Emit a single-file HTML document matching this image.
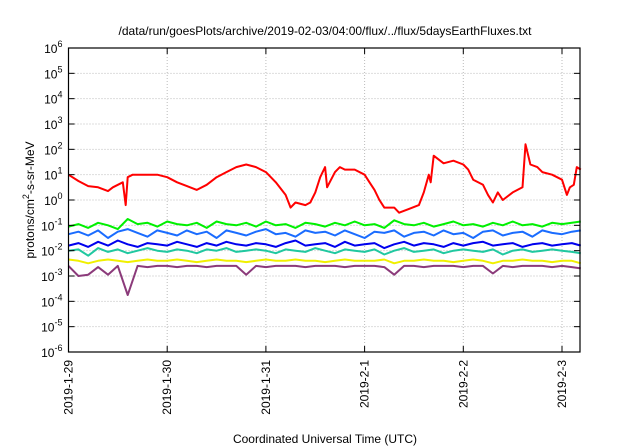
<!DOCTYPE html>
<html><head><meta charset="utf-8"><style>
html,body{margin:0;padding:0;background:#fff}
svg{display:block;font-family:"Liberation Sans",sans-serif}
</style></head><body>
<svg id="chart" width="640" height="448" viewBox="0 0 640 448">
<text x="325" y="35" text-anchor="middle" font-size="12">/data/run/goesPlots/archive/2019-02-03/04:00/flux/../flux/5daysEarthFluxes.txt</text>
<g id="grid"></g><g id="series"></g><g id="axes"></g>
<text x="325" y="443" text-anchor="middle" font-size="12">Coordinated Universal Time (UTC)</text>
<text transform="translate(34,200) rotate(-90)" text-anchor="middle" font-size="12">protons/cm<tspan dy="-5" font-size="9">2</tspan><tspan dy="5">-s-sr-MeV</tspan></text>
</svg>
<script>
const xTickLabels=["2019-1-29","2019-1-30","2019-1-31","2019-2-1","2019-2-2","2019-2-3"];
const yExponents=[-6,-5,-4,-3,-2,-1,0,1,2,3,4,5,6];
const redT=[0,0.1,0.2,0.3,0.4,0.45,0.55,0.58,0.6,0.65,0.8,0.9,1.0,1.1,1.2,1.3,1.4,1.5,1.6,1.7,1.8,1.9,2.0,2.1,2.2,2.25,2.3,2.4,2.45,2.5,2.55,2.6,2.62,2.7,2.75,2.8,2.9,3.0,3.05,3.1,3.15,3.2,3.3,3.35,3.45,3.55,3.6,3.65,3.67,3.7,3.8,3.9,4.0,4.05,4.1,4.2,4.25,4.3,4.35,4.4,4.5,4.6,4.63,4.68,4.75,4.8,4.9,5.0,5.05,5.08,5.12,5.15,5.19];
const redV=[1.0,0.75,0.55,0.5,0.35,0.5,0.7,-0.2,0.9,1.0,1.0,1.0,0.9,0.7,0.55,0.4,0.6,0.9,1.1,1.3,1.4,1.3,1.1,0.7,0.2,-0.3,-0.1,-0.2,-0.1,0.3,0.9,1.3,0.5,1.1,1.3,1.2,1.2,1.0,0.7,0.4,0.0,-0.3,-0.3,-0.5,-0.35,-0.2,0.3,1.0,0.7,1.75,1.45,1.55,1.4,1.2,0.8,0.6,0.2,-0.1,0.3,0.0,0.3,0.5,2.2,1.4,1.3,1.1,1.0,0.8,0.2,0.5,0.6,1.3,1.2];
const t=[0,0.1,0.2,0.3,0.4,0.5,0.6,0.7,0.8,0.9,1.0,1.1,1.2,1.3,1.4,1.5,1.6,1.7,1.8,1.9,2.0,2.1,2.2,2.3,2.4,2.5,2.6,2.7,2.8,2.9,3.0,3.1,3.2,3.3,3.4,3.5,3.6,3.7,3.8,3.9,4.0,4.1,4.2,4.3,4.4,4.5,4.6,4.7,4.8,4.9,5.0,5.1,5.19];
const greenV=[-1.05,-0.95,-1.1,-0.9,-1.0,-1.15,-0.75,-0.95,-0.9,-1.05,-0.85,-0.95,-1.0,-0.9,-1.1,-0.85,-0.95,-1.0,-0.9,-1.05,-0.85,-1.0,-0.95,-1.1,-0.9,-0.95,-1.05,-0.9,-1.0,-0.85,-1.0,-0.95,-1.1,-0.8,-0.95,-1.0,-0.9,-1.05,-0.95,-0.85,-1.0,-0.95,-1.05,-0.9,-1.0,-0.85,-1.0,-0.95,-1.05,-0.9,-0.95,-0.9,-0.85];
const lightBlueV=[-1.35,-1.25,-1.4,-1.2,-1.5,-1.25,-1.15,-1.3,-1.45,-1.2,-1.3,-1.4,-1.2,-1.35,-1.25,-1.5,-1.2,-1.3,-1.4,-1.25,-1.15,-1.35,-1.3,-1.45,-1.2,-1.3,-1.25,-1.4,-1.2,-1.35,-1.5,-1.25,-1.3,-1.2,-1.45,-1.3,-1.25,-1.4,-1.2,-1.35,-1.3,-1.5,-1.25,-1.2,-1.4,-1.3,-1.25,-1.45,-1.2,-1.3,-1.35,-1.25,-1.2];
const blueV=[-1.8,-1.7,-1.85,-1.65,-1.8,-1.6,-1.75,-1.85,-1.7,-1.75,-1.8,-1.65,-1.75,-1.85,-1.7,-1.8,-1.65,-1.75,-1.8,-1.7,-1.75,-1.85,-1.7,-1.6,-1.8,-1.75,-1.7,-1.85,-1.65,-1.8,-1.75,-1.7,-1.9,-1.75,-1.65,-1.8,-1.7,-1.75,-1.85,-1.7,-1.8,-1.7,-1.65,-1.8,-1.75,-1.7,-1.85,-1.75,-1.7,-1.8,-1.75,-1.7,-1.8];
const tealV=[-2.0,-1.95,-2.2,-1.9,-2.05,-1.95,-2.1,-2.0,-1.9,-2.0,-2.05,-1.95,-2.0,-2.1,-1.95,-2.0,-1.9,-2.05,-2.0,-1.95,-2.0,-2.1,-1.95,-2.0,-2.05,-1.9,-2.0,-2.1,-1.95,-2.0,-2.05,-1.95,-2.15,-2.0,-1.9,-2.05,-2.0,-1.95,-2.1,-2.0,-1.95,-2.0,-2.05,-1.95,-2.15,-2.0,-1.95,-2.05,-2.0,-1.95,-2.0,-2.05,-2.1];
const yellowV=[-2.35,-2.4,-2.5,-2.4,-2.35,-2.4,-2.45,-2.4,-2.35,-2.4,-2.4,-2.35,-2.4,-2.45,-2.4,-2.35,-2.4,-2.4,-2.45,-2.4,-2.35,-2.4,-2.4,-2.35,-2.4,-2.4,-2.45,-2.4,-2.35,-2.4,-2.4,-2.4,-2.35,-2.5,-2.4,-2.4,-2.35,-2.4,-2.4,-2.45,-2.4,-2.35,-2.4,-2.5,-2.4,-2.4,-2.35,-2.4,-2.4,-2.45,-2.4,-2.4,-2.5];
const purpleV=[-2.6,-3.0,-2.95,-2.65,-2.95,-2.6,-3.75,-2.6,-2.65,-2.6,-2.6,-2.65,-2.6,-2.6,-2.65,-2.6,-2.6,-2.6,-2.95,-2.6,-2.65,-2.6,-2.6,-2.6,-2.65,-2.6,-2.6,-2.6,-2.65,-2.6,-2.6,-2.6,-2.65,-2.95,-2.6,-2.6,-2.65,-2.6,-2.6,-2.6,-2.65,-2.6,-2.6,-2.9,-2.6,-2.65,-2.6,-2.6,-2.6,-2.65,-2.6,-2.65,-2.7];

const L=68.5,R=580,T=48,B=352,DAY=98.7;
const xS=d=>L+d*DAY;
const yS=e=>B-(e+6)*(B-T)/12;
const NS="http://www.w3.org/2000/svg";
function mk(tag,attrs,parent){const e=document.createElementNS(NS,tag);for(const k in attrs)e.setAttribute(k,attrs[k]);parent.appendChild(e);return e;}
const grid=document.getElementById('grid'),axes=document.getElementById('axes'),ser=document.getElementById('series');
yExponents.forEach((ex,i)=>{
  const y=yS(ex);
  if(i>0&&i<yExponents.length-1){const g=mk('line',{x1:L,x2:R,y1:y,y2:y,stroke:'#bbb','stroke-dasharray':'1,2','stroke-width':1},grid);
  
  }
  mk('line',{x1:L,x2:L+6,y1:y,y2:y,stroke:'#000'},axes);
  mk('line',{x1:R-6,x2:R,y1:y,y2:y,stroke:'#000'},axes);
  const tx=mk('text',{x:L-6,y:y+5,'text-anchor':'end','font-size':12},axes);
  
  
  tx.innerHTML='10<tspan dy="-6" font-size="9">'+ex+'</tspan>';
});
xTickLabels.forEach((lab,i)=>{
  const x=xS(i);
  if(i>0){const g=mk('line',{x1:x,x2:x,y1:T,y2:B,stroke:'#bbb','stroke-dasharray':'1,2'},grid);
  
  }
  mk('line',{x1:x,x2:x,y1:B-6,y2:B,stroke:'#000'},axes);
  mk('line',{x1:x,x2:x,y1:T,y2:T+6,stroke:'#000'},axes);
  const tx=mk('text',{transform:`translate(${x+4},${B+8}) rotate(-90)`,'text-anchor':'end','font-size':12},axes);
  
  
  tx.textContent=lab;
});
const fr=mk('rect',{x:L,y:T,width:R-L,height:B-T,fill:'none',stroke:'#000','stroke-width':1.2},axes);


function line(ts,vs,color,name){
  const d=ts.map((tt,i)=>(i?'L':'M')+xS(tt).toFixed(1)+','+yS(vs[i]).toFixed(1)).join('');
  const p=mk('path',{d:d,fill:'none',stroke:color,'stroke-width':2,'stroke-linejoin':'round'},ser);
  
  
}
line(t,purpleV,'#8b3a7a','series-purple');
line(t,yellowV,'#f0f000','series-yellow');
line(t,tealV,'#20c8a0','series-teal');
line(t,blueV,'#0000ee','series-blue');
line(t,lightBlueV,'#1a6cff','series-light-blue');
line(t,greenV,'#00f000','series-green');
line(redT,redV,'#ff0000','series-red');
</script>
</body></html>
